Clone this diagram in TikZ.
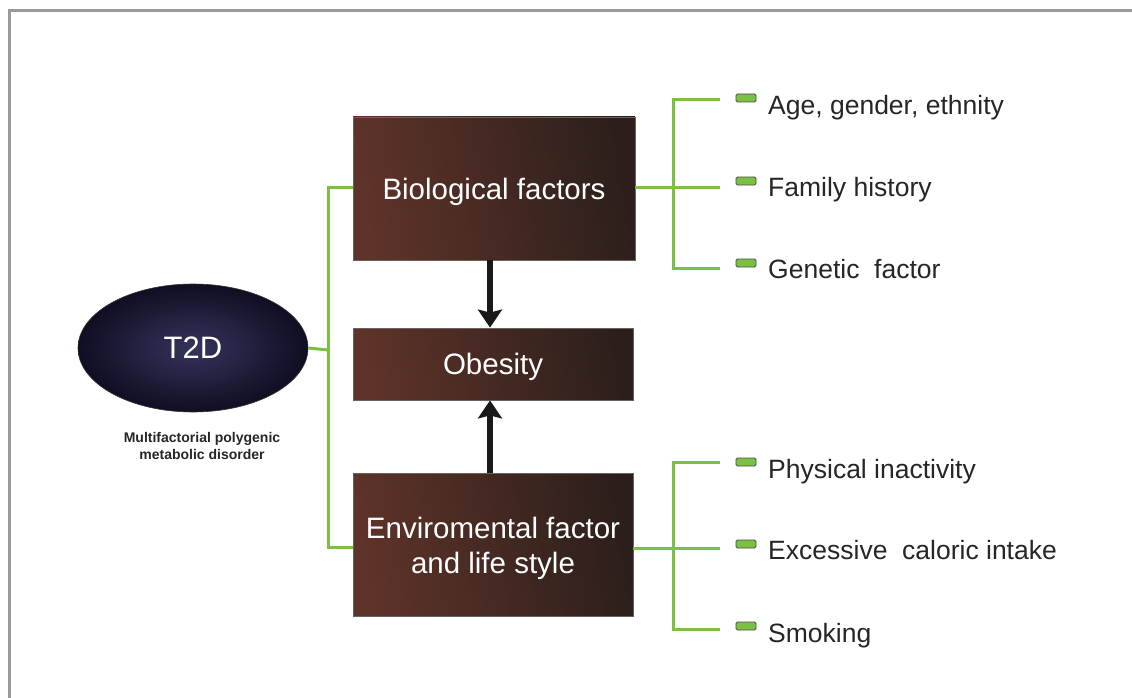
\documentclass[tikz,border=0pt]{standalone}
\usepackage{fontspec}
\setmainfont{Liberation Sans}
\usetikzlibrary{arrows.meta,shapes.geometric}
\definecolor{leaf}{HTML}{7CC043}
\definecolor{boxA}{HTML}{5E3329}
\definecolor{boxB}{HTML}{2C1F1B}
\definecolor{ellIn}{HTML}{35345C}
\definecolor{ellOut}{HTML}{0F0E22}
\definecolor{frame}{HTML}{9A9A9A}
\tikzset{
  factorbox/.style={rectangle, draw=boxB!70!white, line width=0.8pt, left color=boxA, right color=boxB, shading angle=100,
    text=white, align=center, font=\fontsize{29.5}{35}\selectfont, inner sep=0pt, text depth=0pt},
  branch/.style={leaf, line width=3pt},
  bigarrow/.style={-{Stealth[length=18pt,width=24pt,inset=3pt]}, line width=6pt, black!90},
  itemlabel/.style={anchor=base west, font=\fontsize{26.5}{30}\selectfont, text=black!85, inner sep=0pt},
  bulletbox/.style={rectangle, rounded corners=1.5pt, fill=leaf, draw=black!70, line width=0.8pt, minimum width=20pt, minimum height=8pt, inner sep=0pt}
}
\begin{document}
\begin{tikzpicture}[x=1pt,y=-1pt]
\useasboundingbox (0,0) rectangle (1132,698);
\fill[white] (0,0) rectangle (1132,698);
\draw[frame, line width=3pt] (9.5,698) -- (9.5,10.5) -- (1132,10.5);

% main nodes
\node[ellipse, minimum width=230pt, minimum height=128pt, inner color=ellIn, outer color=ellOut, draw=black!80, line width=0.6pt,
      text=white, font=\fontsize{31}{34}\selectfont] (t2d) at (193,348) {T2D};
\node[align=center, font=\bfseries\fontsize{14}{17.5}\selectfont, text=black!85] (desc) at (202,446) {Multifactorial polygenic\\metabolic disorder};

\node[factorbox, minimum width=282pt, minimum height=143pt] (bio) at (494,188.5) {Biological factors};
\node[factorbox, minimum width=280pt, minimum height=72pt] (obe) at (493,364) {Obesity};
\node[factorbox, minimum width=280pt, minimum height=143pt] (env) at (493,545) {Enviromental factor\\and life style};

% arrows
\draw[bigarrow] (bio.south -| 490,0) -- (obe.north -| 490,0);
\draw[bigarrow] (env.north -| 490,0) -- (obe.south -| 490,0);

% left bracket
\coordinate (lj) at (328,350);
\draw[branch] (t2d.east) -- (lj);
\draw[branch] (bio.west |- 0,187) -- (328,187) -- (328,547) -- (env.west |- 0,547);

% right bracket top
\coordinate (tj) at (673,187);
\coordinate (ta) at (720,100);
\coordinate (tb) at (720,187);
\coordinate (tc) at (720,268);
\draw[branch] (bio.east |- tj) -- (tj);
\draw[branch] (ta) -- (673,100) -- (673,268) -- (tc);
\draw[branch] (tj) -- (tb);

% right bracket bottom
\coordinate (bj) at (673,548);
\coordinate (ba) at (720,462);
\coordinate (bb) at (720,548);
\coordinate (bc) at (720,629);
\draw[branch] (env.east |- bj) -- (bj);
\draw[branch] (ba) -- (673,462) -- (673,629) -- (bc);
\draw[branch] (bj) -- (bb);

% bullets
\node[bulletbox] (b1) at (746,98) {};
\node[bulletbox] (b2) at (746,181) {};
\node[bulletbox] (b3) at (746,263) {};
\node[bulletbox] (b4) at (746,462) {};
\node[bulletbox] (b5) at (746,544) {};
\node[bulletbox] (b6) at (746,626) {};

% labels
\node[itemlabel] (l1) at (768,115) {Age, gender, ethnity};
\node[itemlabel] (l2) at (768,196) {Family history};
\node[itemlabel] (l3) at (768,278) {Genetic\ \ factor};
\node[itemlabel] (l4) at (768,478) {Physical inactivity};
\node[itemlabel] (l5) at (768,559) {Excessive\ \ caloric intake};
\node[itemlabel] (l6) at (768,642) {Smoking};
\end{tikzpicture}
\end{document}
